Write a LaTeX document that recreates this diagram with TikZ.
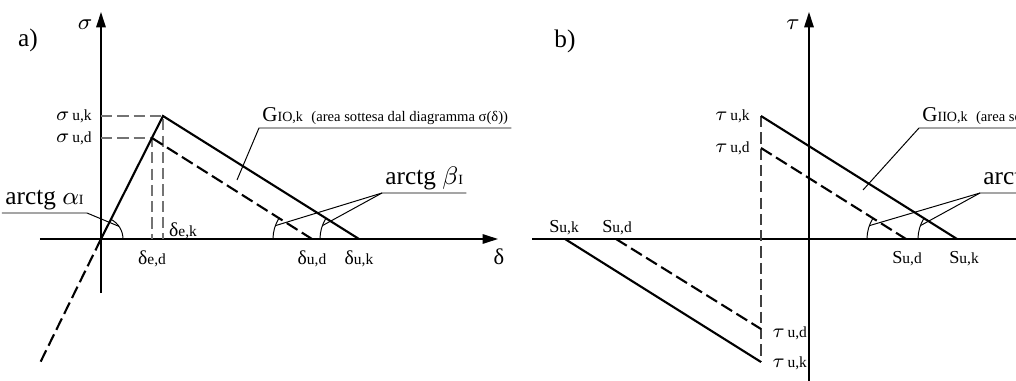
\documentclass[tikz,border=0pt]{standalone}
\usepackage{fontspec}
\setmainfont{Liberation Serif}
\usetikzlibrary{arrows.meta, calc}

\newcommand{\fsz}[1]{\fontsize{#1}{#1}\selectfont}
\newcommand{\lab}[3]{{\fsz{#1}#2}{\fsz{5.5}#3}}

\begin{document}
\begin{tikzpicture}[scale=0.5,
    axis/.style={line width=0.5pt, -{Triangle[length=5.5pt,width=3.4pt]}},
    curve/.style={line width=0.75pt},
    dcurve/.style={line width=0.75pt, dash pattern=on 4.5pt off 1.8pt},
    helper/.style={line width=0.5pt, black!55, dash pattern=on 4pt off 1.8pt},
    leader/.style={line width=0.35pt},
    tag/.style={inner sep=1pt}]
    \useasboundingbox (-2.525,-3.55) rectangle (22.875,5.975);
    \clip (-2.525,-3.55) rectangle (22.875,5.975);

    % ===== a) =====
    % Axes
    \coordinate (O) at (0,0);
    \draw[axis] (0,-1.35) -- (0,5.675);
    \draw[axis] (-1.525,0) -- (9.925,0);
    \node (sig) at (-0.4,5.35) {\fsz{8}$\sigma$};
    \node (del) at (9.95,-0.45) {\fsz{8}δ};
    \node (pa) at (-1.825,4.975) {\fsz{9}a)};

    % Points of the law
    \coordinate (Kp) at (1.55,3.075);
    \coordinate (Dp) at (1.275,2.525);
    \coordinate (Ks) at (0,3.075);
    \coordinate (Ds) at (0,2.525);
    \coordinate (Ke) at (1.55,0);
    \coordinate (De) at (1.275,0);
    \coordinate (Ku) at (6.45,0);
    \coordinate (Du) at (5.275,0);
    \coordinate (Ot) at (-1.55,-3.15);

    % Dashed helper lines
    \draw[helper] (Ks) -- (Kp) -- (Ke);
    \draw[helper] (Ds) -- (Dp) -- (De);

    % Bilinear laws
    \draw[curve] (O) -- (Kp) -- (Ku);
    \draw[dcurve] (Dp) -- (Du);
    \draw[dcurve] (O) -- (Ot);

    % Value labels
    \node[left, tag] (lsk) at (-0.15,3.075) {\lab{7}{$\sigma$}{\,u,k}};
    \node[left, tag] (lsd) at (-0.15,2.525) {\lab{7}{$\sigma$}{\,u,d}};
    \node (lded) at (1.275,-0.5) {\lab{7}{δ}{e,d}};
    \node (ldek) at (2.05,0.2) {\lab{7}{δ}{e,k}};
    \node (ldud) at (5.275,-0.5) {\lab{7}{δ}{u,d}};
    \node (lduk) at (6.45,-0.5) {\lab{7}{δ}{u,k}};

    % Angles
    \draw[leader] ($(O)+(0.55,0)$) arc[start angle=0, end angle=63, radius=0.55];
    \draw[leader] ($(Du)+(-0.975,0)$) arc[start angle=180, end angle=148, radius=0.975];
    \draw[leader] ($(Ku)+(-0.975,0)$) arc[start angle=180, end angle=148, radius=0.975];
    \coordinate (aA) at (35:0.55);
    \coordinate (bD) at ($(Du)+(160:0.975)$);
    \coordinate (bK) at ($(Ku)+(160:0.975)$);
    \coordinate (gA) at (3.4,1.475);

    % Callouts
    \node[anchor=south east, tag] (ta) at (-0.35,0.65) {\fsz{9}arctg $\alpha${\fsz{5}I}};
    \draw[leader] (ta.south west) -- (ta.south east) -- (aA);
    \node[anchor=south west, tag] (tb) at (7.025,1.15) {\fsz{9}arctg $\beta${\fsz{5}I}\hspace{2pt}};
    \draw[leader] (tb.south east) -- (tb.south west) -- (bD);
    \draw[leader] (tb.south west) -- (bK);
    \node[anchor=south west, tag] (tg) at (3.95,2.775) {{\fsz{7.5}G}{\fsz{5}IO,k}\hspace{3pt}{\fsz{5.2}(area sottesa dal diagramma σ(δ))}};
    \draw[leader] (tg.south east) -- (tg.south west) -- (gA);

    % ===== b) =====
    % Axes
    \draw[axis] (17.7,-3.6) -- (17.7,5.675);
    \draw[line width=0.5pt] (10.775,0) -- (23,0);
    \node (tau) at (17.3,5.35) {\fsz{8}$\tau$};
    \node (pb) at (11.6,4.95) {\fsz{9}b)};

    % Points of the law
    \coordinate (Tk) at (16.5,3.075);
    \coordinate (Td) at (16.5,2.275);
    \coordinate (Bk) at (16.5,-3.075);
    \coordinate (Bd) at (16.5,-2.25);
    \coordinate (Sk) at (21.4,0);
    \coordinate (Sd) at (20.125,0);
    \coordinate (Skm) at (11.6,0);
    \coordinate (Sdm) at (12.875,0);

    % Dashed helper line
    \draw[helper, black!75] (Tk) -- (Bk);

    % Laws
    \draw[curve] (Tk) -- (Sk);
    \draw[curve] (Skm) -- (Bk);
    \draw[dcurve] (Td) -- (Sd);
    \draw[dcurve] (Sdm) -- (Bd);

    % Value labels
    \node[left, tag] (ltk) at (16.3,3.075) {\lab{7}{$\tau$}{\,u,k}};
    \node[left, tag] (ltd) at (16.3,2.275) {\lab{7}{$\tau$}{\,u,d}};
    \node[right, tag] (lbd) at (16.7,-2.35) {\lab{7}{$\tau$}{\,u,d}};
    \node[right, tag] (lbk) at (16.7,-3.1) {\lab{7}{$\tau$}{\,u,k}};
    \node[anchor=base] (lskm) at (11.575,0.15) {\lab{6.5}{S}{u,k}};
    \node[anchor=base] (lsdm) at (12.9,0.15) {\lab{6.5}{S}{u,d}};
    \node[anchor=base] (lsd) at (20.15,-0.625) {\lab{6.5}{S}{u,d}};
    \node[anchor=base] (lsk) at (21.575,-0.625) {\lab{6.5}{S}{u,k}};

    % Angles
    \draw[leader] ($(Sd)+(-0.975,0)$) arc[start angle=180, end angle=148, radius=0.975];
    \draw[leader] ($(Sk)+(-0.975,0)$) arc[start angle=180, end angle=148, radius=0.975];
    \coordinate (cD) at ($(Sd)+(160:0.975)$);
    \coordinate (cK) at ($(Sk)+(160:0.975)$);
    \coordinate (gB) at (19.05,1.225);

    % Callouts
    \node[anchor=south west, tag] (tc) at (21.975,1.15) {\fsz{9}arctg $\beta${\fsz{5}II}\hspace{2pt}};
    \draw[leader] (tc.south east) -- (tc.south west) -- (cD);
    \draw[leader] (tc.south west) -- (cK);
    \node[anchor=south west, tag] (th) at (20.45,2.775) {{\fsz{7.5}G}{\fsz{5}IIO,k}\hspace{3pt}{\fsz{5.2}(area sottesa dal diagramma τ(s))}};
    \draw[leader] (th.south east) -- (th.south west) -- (gB);
\end{tikzpicture}
\end{document}
